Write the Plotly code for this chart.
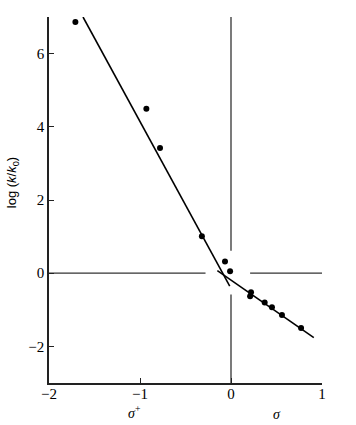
import plotly.graph_objects as go

# data points (sigma / sigma+ , log(k/k0))
sig_x = [-1.71, -0.93, -0.78, -0.32, -0.066, -0.01, 0.22, 0.21, 0.37, 0.45, 0.56, 0.77]
log_k = [6.86, 4.49, 3.42, 1.01, 0.32, 0.05, -0.52, -0.63, -0.80, -0.93, -1.14, -1.50]

# fitted lines
steep_x = [-1.626, -0.014]
steep_y = [7.0, -0.35]
shallow_x = [-0.15, 0.91]
shallow_y = [0.07, -1.76]

# guide cross lines (with gap near origin)
hline_x = [-2, -0.28, None, 0.21, 1.0]
hline_y = [0, 0, None, 0, 0]
vline_x = [0, 0, None, 0, 0]
vline_y = [7.0, 0.61, None, -0.58, -3.0]

x_ticks = [-2, -1, 0, 1]
y_ticks = [-2, 0, 2, 4, 6]

fig = go.Figure()
fig.add_trace(go.Scatter(x=hline_x, y=hline_y, mode="lines",
                         line=dict(color="#333", width=1.3), hoverinfo="skip"))
fig.add_trace(go.Scatter(x=vline_x, y=vline_y, mode="lines",
                         line=dict(color="#333", width=1.3), hoverinfo="skip"))
fig.add_trace(go.Scatter(x=steep_x, y=steep_y, mode="lines",
                         line=dict(color="black", width=1.6)))
fig.add_trace(go.Scatter(x=shallow_x, y=shallow_y, mode="lines",
                         line=dict(color="black", width=1.6)))
fig.add_trace(go.Scatter(x=sig_x, y=log_k, mode="markers",
                         marker=dict(color="black", size=6)))

tickfont = dict(family="Liberation Serif", size=15, color="black")
fig.update_layout(
    width=356, height=425,
    margin=dict(l=49, r=34, t=17, b=42),
    plot_bgcolor="white", paper_bgcolor="white",
    showlegend=False,
    xaxis=dict(range=[-2, 1], tickvals=x_ticks, ticks="inside", ticklen=5,
               tickcolor="#222", tickwidth=1.3, ticklabelstandoff=-4,
               showline=True, linecolor="#222", linewidth=1.5,
               showgrid=False, zeroline=False, tickfont=tickfont),
    yaxis=dict(range=[-3, 7], tickvals=y_ticks, ticks="inside", ticklen=5,
               tickcolor="#222", tickwidth=1.3,
               showline=True, linecolor="#222", linewidth=1.5,
               showgrid=False, zeroline=False, tickfont=tickfont),
    annotations=[
        dict(text="log (<i>k</i>/<i>k</i><sub>0</sub>)", xref="paper", yref="paper",
             x=-0.1355, y=0.546, xanchor="center", yanchor="middle",
             textangle=-90, showarrow=False,
             font=dict(family="Liberation Sans", size=13, color="black")),
        dict(text="<i>σ</i><sup>+</sup>", xref="x", yref="paper",
             x=-1.06, y=-0.078, xanchor="center", yanchor="middle", showarrow=False,
             font=dict(family="Liberation Serif", size=14, color="black")),
        dict(text="<i>σ</i>", xref="x", yref="paper",
             x=0.51, y=-0.087, xanchor="center", yanchor="middle", showarrow=False,
             font=dict(family="Liberation Serif", size=14, color="black")),
    ],
)

fig.write_html("out.html")
